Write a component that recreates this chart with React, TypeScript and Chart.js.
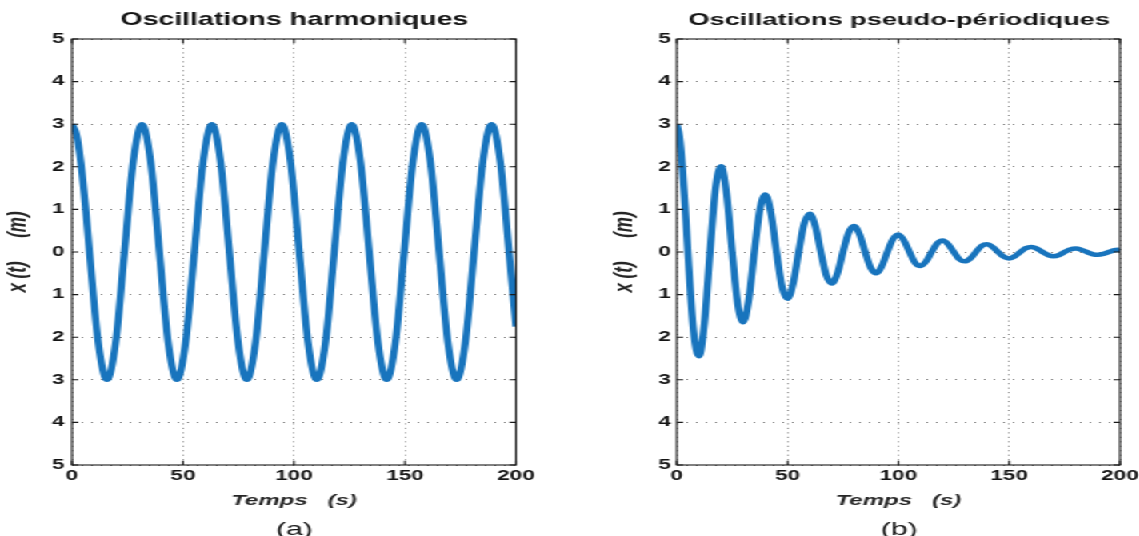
import React, { useEffect, useRef } from 'react';
import { Chart, registerables } from 'chart.js';

Chart.register(...registerables);

// ---------- data ----------
const xTickValues = [0, 50, 100, 150, 200];
const yTickValues = [5, 4, 3, 2, 1, 0, -1, -2, -3, -4, -5];
const yTickLabels = ['5', '4', '3', '2', '1', '0', '1', '2', '3', '4', '5'];

const titles = ['Oscillations harmoniques', 'Oscillations pseudo-périodiques'];
const captions = ['(a)', '(b)'];
const xAxisLabel = 'Temps   (s)';
const yAxisLabel = 'x (t)     (m)';

// (a) harmonic oscillation, read at 1/8 period steps (finer at the start)
const tHarm = [
  0, 1.97, 3.94, 5.91, 7.88, 11.81, 15.75, 19.69, 23.63, 27.56, 31.5, 35.44, 39.38, 43.31, 47.25,
  51.19, 55.13, 59.06, 63, 66.94, 70.88, 74.81, 78.75, 82.69, 86.63, 90.56, 94.5,
  98.44, 102.38, 106.31, 110.25, 114.19, 118.13, 122.06, 126, 129.94, 133.88, 137.81,
  141.75, 145.69, 149.63, 153.56, 157.5, 161.44, 165.38, 169.31, 173.25, 177.19,
  181.13, 185.06, 189, 192.94, 196.88, 200,
];
const xHarm = [
  3, 2.77, 2.12, 1.15, 0, -2.12, -3, -2.12, 0, 2.12, 3, 2.12, 0, -2.12, -3,
  -2.12, 0, 2.12, 3, 2.12, 0, -2.12, -3, -2.12, 0, 2.12, 3,
  2.12, 0, -2.12, -3, -2.12, 0, 2.12, 3, 2.12, 0, -2.12,
  -3, -2.12, 0, 2.12, 3, 2.12, 0, -2.12, -3, -2.12,
  0, 2.12, 3, 2.12, 0, -1.75,
];

// (b) damped (pseudo-periodic) oscillation, read every 2.5 s (finer at the start)
const tPseudo = [
  0, 1.25, 2.5, 3.75, 5, 7.5, 10, 12.5, 15, 17.5, 20, 22.5, 25, 27.5, 30, 32.5, 35, 37.5, 40,
  42.5, 45, 47.5, 50, 52.5, 55, 57.5, 60, 62.5, 65, 67.5, 70, 72.5, 75, 77.5, 80,
  82.5, 85, 87.5, 90, 92.5, 95, 97.5, 100, 102.5, 105, 107.5, 110, 112.5, 115, 117.5,
  120, 122.5, 125, 127.5, 130, 132.5, 135, 137.5, 140, 142.5, 145, 147.5, 150, 152.5,
  155, 157.5, 160, 162.5, 165, 167.5, 170, 172.5, 175, 177.5, 180, 182.5, 185, 187.5,
  190, 192.5, 195, 197.5, 200,
];
const xPseudo = [
  3, 2.7, 2.02, 1.07, 0, -1.83, -2.45, -1.65, 0, 1.5, 2.01, 1.35, 0, -1.22, -1.65, -1.11, 0, 1.0, 1.35,
  0.91, 0, -0.82, -1.1, -0.74, 0, 0.67, 0.9, 0.61, 0, -0.55, -0.74, -0.5, 0, 0.45, 0.61,
  0.41, 0, -0.37, -0.5, -0.33, 0, 0.3, 0.41, 0.27, 0, -0.25, -0.33, -0.22, 0, 0.2,
  0.27, 0.18, 0, -0.17, -0.22, -0.15, 0, 0.14, 0.18, 0.12, 0, -0.11, -0.15, -0.1,
  0, 0.09, 0.12, 0.08, 0, -0.07, -0.1, -0.07, 0, 0.06, 0.08, 0.055, 0, -0.05,
  -0.067, -0.045, 0, 0.041, 0.055,
];

// ---------- style ----------
const STRETCH = 1.6;
const FONT = "'Liberation Sans', Arial, Helvetica, sans-serif";
const TEXT = '#141414';
const LINE = '#1874bd';
const GRID = 'rgba(40,40,40,0.8)';

const boxPlugin = {
  id: 'matlabBox',
  afterDatasetsDraw(chart: any) {
    const { ctx, chartArea: a, scales } = chart;
    const xs = scales.x;
    const ys = scales.y;
    ctx.save();
    ctx.setLineDash([]);
    ctx.strokeStyle = '#1a1a1a';
    ctx.lineWidth = 1.1;
    ctx.beginPath();
    for (const v of xTickValues) {
      const px = xs.getPixelForValue(v);
      ctx.moveTo(px, a.bottom);
      ctx.lineTo(px, a.bottom - 4.3);
      ctx.moveTo(px, a.top);
      ctx.lineTo(px, a.top + 4.3);
    }
    for (const v of yTickValues) {
      const py = ys.getPixelForValue(v);
      ctx.moveTo(a.left, py);
      ctx.lineTo(a.left + 4, py);
      ctx.moveTo(a.right, py);
      ctx.lineTo(a.right - 4, py);
    }
    ctx.stroke();
    ctx.strokeRect(a.left, a.top, a.right - a.left, a.bottom - a.top);
    ctx.restore();
  },
};

function makeConfig(
  t: number[],
  v: number[],
  title: string,
  titleSize: number,
  caption: string,
  rightWidth: number,
  yTickPad: number,
  yTitlePad: number
) {
  const titleLH = titleSize * 1.2;
  const titleTop = 20.5 - titleLH / 2;
  const titleBottom = 39 - titleTop - titleLH;
  return {
    type: 'line',
    data: {
      datasets: [
        {
          data: t.map((tt, i) => ({ x: tt, y: v[i] })),
          borderColor: LINE,
          borderWidth: 4.5,
          pointRadius: 0,
          cubicInterpolationMode: 'monotone',
          borderJoinStyle: 'round',
          fill: false,
          clip: 0,
        },
      ],
    },
    options: {
      animation: false,
      responsive: true,
      maintainAspectRatio: false,
      devicePixelRatio: 1,
      events: [],
      layout: { padding: { left: 0, right: 0, top: 0, bottom: 18.6 } },
      plugins: {
        legend: { display: false },
        tooltip: { enabled: false },
        title: {
          display: true,
          text: title,
          color: TEXT,
          font: { family: FONT, size: titleSize, weight: 'bold', lineHeight: 1.2 },
          padding: { top: titleTop, bottom: titleBottom },
        },
        subtitle: {
          display: true,
          text: caption,
          position: 'bottom',
          color: TEXT,
          font: { family: FONT, size: 19, weight: 'normal', lineHeight: 1.2 },
          padding: { top: 9.1, bottom: 0 },
        },
      },
      scales: {
        x: {
          type: 'linear',
          position: 'bottom',
          min: 0,
          max: 200,
          ticks: {
            stepSize: 50,
            autoSkip: false,
            maxRotation: 0,
            padding: 3,
            color: TEXT,
            font: { family: FONT, size: 14, weight: 'bold' },
          },
          grid: { color: GRID, lineWidth: 0.7, drawTicks: false },
          border: { display: false, dash: [1, 3.47] },
          title: {
            display: true,
            text: xAxisLabel,
            color: '#262626',
            font: { family: FONT, size: 15, weight: 'bold', style: 'italic' },
            padding: { top: 0, bottom: 0 },
          },
          afterFit: (s: any) => {
            s.height = 44.5;
          },
        },
        y: {
          type: 'linear',
          position: 'left',
          min: -5,
          max: 5,
          ticks: {
            stepSize: 1,
            autoSkip: false,
            padding: yTickPad,
            color: TEXT,
            font: { family: FONT, size: 14, weight: 'bold' },
            callback: (val: number) => {
              const i = yTickValues.indexOf(Math.round(val));
              return i >= 0 ? yTickLabels[i] : '';
            },
          },
          grid: { color: GRID, lineWidth: 1, drawTicks: false },
          border: { display: false, dash: [0.8, 5.2] },
          title: {
            display: true,
            text: yAxisLabel,
            color: '#262626',
            font: { family: FONT, size: 17, weight: 'bold', style: 'italic' },
            padding: { top: yTitlePad, bottom: 0 },
          },
          afterFit: (s: any) => {
            s.width = 45;
          },
        },
        y2: {
          type: 'linear',
          position: 'right',
          min: -5,
          max: 5,
          ticks: { display: false },
          grid: { display: false, drawTicks: false },
          border: { display: false },
          afterFit: (s: any) => {
            s.width = rightWidth;
          },
        },
      },
    },
    plugins: [boxPlugin],
  };
}

function ChartBox(props: {
  left: number;
  t: number[];
  v: number[];
  title: string;
  titleSize: number;
  caption: string;
  rightWidth: number;
  yTickPad: number;
  yTitlePad: number;
}) {
  const ref = useRef<HTMLCanvasElement | null>(null);
  useEffect(() => {
    if (!ref.current) return;
    const chart = new Chart(
      ref.current,
      makeConfig(
        props.t,
        props.v,
        props.title,
        props.titleSize,
        props.caption,
        props.rightWidth,
        props.yTickPad,
        props.yTitlePad
      ) as any
    );
    return () => chart.destroy();
  }, []);
  return (
    <div style={{ position: 'absolute', left: props.left, top: 0, width: 368, height: 560 }}>
      <canvas ref={ref} />
    </div>
  );
}

export default function App() {
  return (
    <div
      style={{
        position: 'fixed',
        left: 0,
        top: 0,
        width: 1139,
        height: 536,
        overflow: 'hidden',
        background: '#ffffff',
      }}
    >
      <div
        style={{
          position: 'absolute',
          left: 0,
          top: 0,
          width: 760,
          height: 560,
          transform: `scaleX(${STRETCH})`,
          transformOrigin: '0 0',
        }}
      >
        <ChartBox
          left={0}
          t={tHarm}
          v={xHarm}
          title={titles[0]}
          titleSize={17.8}
          caption={captions[0]}
          rightWidth={45.5}
          yTickPad={4.6}
          yTitlePad={1.5}
        />
        <ChartBox
          left={378}
          t={tPseudo}
          v={xPseudo}
          title={titles[1]}
          titleSize={17}
          caption={captions[1]}
          rightWidth={46}
          yTickPad={3.75}
          yTitlePad={2.2}
        />
      </div>
    </div>
  );
}
